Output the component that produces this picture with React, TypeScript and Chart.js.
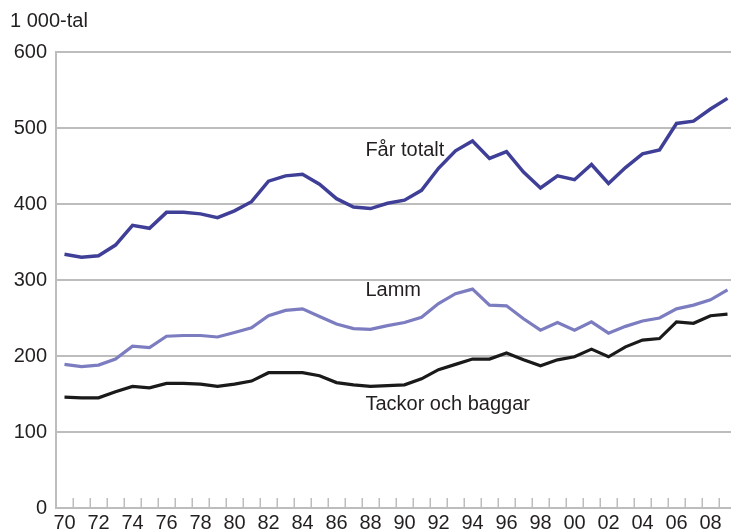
import React, { useEffect, useRef } from 'react';
import { Chart, registerables } from 'chart.js';

Chart.register(...registerables);

// Years 1970–2009 (two-digit labels)
const years = [
  '70', '71', '72', '73', '74', '75', '76', '77', '78', '79',
  '80', '81', '82', '83', '84', '85', '86', '87', '88', '89',
  '90', '91', '92', '93', '94', '95', '96', '97', '98', '99',
  '00', '01', '02', '03', '04', '05', '06', '07', '08', '09',
];

const farTotalt = [
  334, 330, 332, 346, 372, 368, 389, 389, 387, 382,
  391, 403, 430, 437, 439, 426, 407, 396, 394, 401,
  405, 418, 447, 470, 483, 460, 469, 442, 421, 437,
  432, 452, 427, 448, 466, 471, 506, 509, 525, 539,
];

const lamm = [
  189, 186, 188, 196, 213, 211, 226, 227, 227, 225,
  231, 237, 253, 260, 262, 252, 242, 236, 235, 240,
  244, 251, 269, 282, 288, 267, 266, 249, 234, 244,
  234, 245, 230, 239, 246, 250, 262, 267, 274, 287,
];

const tackorOchBaggar = [
  146, 145, 145, 153, 160, 158, 164, 164, 163, 160,
  163, 167, 178, 178, 178, 174, 165, 162, 160, 161,
  162, 170, 182, 189, 196, 196, 204, 195, 187, 195,
  199, 209, 199, 212, 221, 223, 245, 243, 253, 255,
];

const seriesNames = ['Får totalt', 'Lamm', 'Tackor och baggar'];
const yTicks = [0, 100, 200, 300, 400, 500, 600];
const unitLabel = '1 000-tal';

const FONT = '"Liberation Sans", Arial, Helvetica, sans-serif';
const GRID = '#bdbdbd';
const TEXT = '#231f20';

const overlayPlugin = {
  id: 'overlay',
  beforeDatasetsDraw(chart: any) {
    const { ctx, chartArea, scales } = chart;
    const x = scales.x;
    const step = x.getPixelForValue(1) - x.getPixelForValue(0);
    ctx.save();
    ctx.strokeStyle = GRID;
    ctx.lineWidth = 1.5;
    for (let i = 1; i < years.length; i++) {
      const px = Math.round(x.getPixelForValue(i) - step / 2) + 0.25;
      ctx.beginPath();
      ctx.moveTo(px, chartArea.bottom);
      ctx.lineTo(px, chartArea.bottom - 10);
      ctx.stroke();
    }
    ctx.restore();
  },
  afterDatasetsDraw(chart: any) {
    const { ctx, scales } = chart;
    const x = scales.x;
    const y = scales.y;
    const step = x.getPixelForValue(1) - x.getPixelForValue(0);
    ctx.save();
    ctx.fillStyle = TEXT;
    ctx.font = `20px ${FONT}`;
    ctx.textAlign = 'left';
    ctx.textBaseline = 'middle';
    const lx = x.getPixelForValue(18) - step * 0.3;
    ctx.fillText(seriesNames[0], lx, y.getPixelForValue(470));
    ctx.fillText(seriesNames[1], lx, y.getPixelForValue(286));
    ctx.fillText(seriesNames[2], lx, y.getPixelForValue(136));
    ctx.fillText(unitLabel, 10, 21);
    ctx.restore();
  },
};

export default function App() {
  const canvasRef = useRef<HTMLCanvasElement | null>(null);

  useEffect(() => {
    document.body.style.margin = '0';
    const canvas = canvasRef.current;
    if (!canvas) return;
    const chart = new Chart(canvas, {
      type: 'line',
      data: {
        labels: years,
        datasets: [
          {
            label: seriesNames[0],
            data: farTotalt,
            borderColor: '#3f3f98',
            borderWidth: 3.5,
            pointRadius: 0,
            tension: 0,
            fill: false,
          },
          {
            label: seriesNames[1],
            data: lamm,
            borderColor: '#7c7cc0',
            borderWidth: 3.2,
            pointRadius: 0,
            tension: 0,
            fill: false,
          },
          {
            label: seriesNames[2],
            data: tackorOchBaggar,
            borderColor: '#1a1a1a',
            borderWidth: 3.2,
            pointRadius: 0,
            tension: 0,
            fill: false,
          },
        ],
      },
      options: {
        animation: false,
        responsive: false,
        maintainAspectRatio: false,
        layout: { padding: { top: 52, left: 0, right: 0, bottom: 0 } },
        plugins: {
          legend: { display: false },
          tooltip: { enabled: false },
          title: { display: false },
        },
        scales: {
          x: {
            type: 'category',
            offset: true,
            grid: { display: false, offset: true, drawTicks: false },
            border: { display: true, color: GRID, width: 2 },
            ticks: {
              autoSkip: false,
              maxRotation: 0,
              minRotation: 0,
              padding: 3,
              color: TEXT,
              font: { family: FONT, size: 20 },
              callback: (_v: any, i: number) => (i % 2 === 0 ? years[i] : ''),
            },
            afterFit: (scale: any) => {
              scale.height = 24;
            },
          },
          y: {
            min: 0,
            max: 600,
            afterBuildTicks: (scale: any) => {
              scale.ticks = yTicks.map((v) => ({ value: v }));
            },
            grid: { color: GRID, lineWidth: 2, drawTicks: false },
            border: { display: true, color: GRID, width: 2 },
            ticks: {
              padding: 9,
              color: TEXT,
              font: { family: FONT, size: 20 },
            },
            afterFit: (scale: any) => {
              scale.width = 56;
            },
          },
        },
      },
      plugins: [overlayPlugin],
    });
    return () => chart.destroy();
  }, []);

  return (
    <div
      style={{
        position: 'fixed',
        left: 0,
        top: 0,
        width: 731,
        height: 532,
        overflow: 'hidden',
        background: '#fff',
      }}
    >
      <canvas ref={canvasRef} width={736} height={532} style={{ width: 736, height: 532, display: 'block' }} />
    </div>
  );
}
